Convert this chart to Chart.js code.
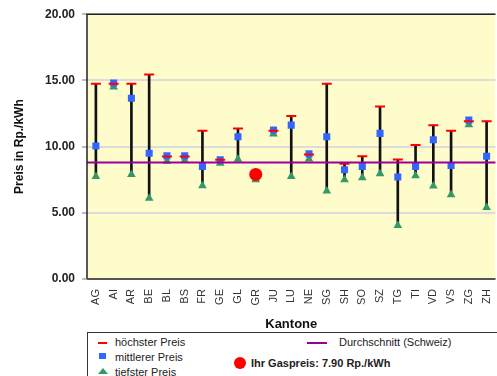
<!DOCTYPE html>
<html>
<head>
<meta charset="utf-8">
<script src="https://cdn.jsdelivr.net/npm/chart.js@4.4.0/dist/chart.umd.min.js"></script>
<style>
  html, body { margin: 0; padding: 0; background: #fff; overflow: hidden; width: 497px; height: 376px; }
  #wrap { position: relative; width: 510px; height: 376px; }
  #legend {
    position: absolute; left: 87px; top: 332px; width: 440px; height: 60px;
    border: 1px solid #333; background: #fff;
    font-family: "Liberation Sans", Arial, sans-serif; font-size: 11px; color: #222;
  }
  .item { position: absolute; white-space: nowrap; line-height: 13px; }
  .sym { position: absolute; }
</style>
</head>
<body>
<div id="wrap">
  <canvas id="chart" width="510" height="376"></canvas>
  <div id="legend">
    <div class="sym" style="left:10px;top:9px;width:9px;height:2px;background:#ff0000"></div>
    <div class="item" style="left:27px;top:3px">höchster Preis</div>
    <div class="sym" style="left:11px;top:20px;width:7px;height:6px;background:#3366ff"></div>
    <div class="item" style="left:27px;top:18px">mittlerer Preis</div>
    <div class="sym" style="left:10px;top:35px;width:0;height:0;border-left:5px solid transparent;border-right:5px solid transparent;border-bottom:6px solid #339966"></div>
    <div class="item" style="left:27px;top:33px">tiefster Preis</div>
    <div class="sym" style="left:219px;top:9px;width:20px;height:2px;background:#990099"></div>
    <div class="item" style="left:251px;top:3px">Durchschnitt (Schweiz)</div>
    <div class="sym" style="left:146px;top:24px;width:12px;height:12px;border-radius:50%;background:#ff0000"></div>
    <div class="item" style="left:163px;top:24px;font-weight:bold">Ihr Gaspreis: 7.90 Rp./kWh</div>
  </div>
</div>
<script>
// Kantone und Gaspreise in Rp./kWh
const kantone = ['AG','AI','AR','BE','BL','BS','FR','GE','GL','GR','JU','LU','NE','SG','SH','SO','SZ','TG','TI','VD','VS','ZG','ZH'];
const hoechsterPreis = [14.75, 14.75, 14.75, 15.45, 9.25, 9.25, 11.2, 9.0, 11.37, 7.7, 11.2, 12.32, 9.4, 14.75, 8.7, 9.27, 13.02, 9.02, 10.13, 11.62, 11.2, 11.92, 11.92];
const mittlererPreis = [10.05, 14.8, 13.65, 9.5, 9.3, 9.3, 8.5, 9.0, 10.75, 7.7, 11.25, 11.62, 9.45, 10.75, 8.25, 8.5, 11.0, 7.7, 8.5, 10.52, 8.57, 12.0, 9.27];
const tiefsterPreis = [7.75, 14.5, 7.9, 6.1, 8.9, 8.95, 7.05, 8.75, 9.05, 7.5, 10.95, 7.75, 9.07, 6.65, 7.5, 7.65, 7.95, 4.05, 7.8, 7.02, 6.37, 11.65, 5.4];
const durchschnitt = 8.79;
const ihrKanton = 'GR';
const ihrPreis = 7.9;
const yTicks = [0, 5, 10, 15, 20];

const FONT = '"Liberation Sans", Arial, sans-serif';

// Hintergrund, Rahmen und Durchschnittslinie
const plotDeco = {
    id: 'plotDeco',
    beforeDraw(chart) {
        const { ctx, chartArea: a } = chart;
        ctx.save();
        ctx.fillStyle = '#fffccc';
        ctx.fillRect(a.left, a.top, a.right - a.left, a.bottom - a.top);
        ctx.restore();
    },
    afterDatasetsDraw(chart) {
        const { ctx, chartArea: a, scales } = chart;
        const y = scales.y.getPixelForValue(durchschnitt);
        ctx.save();
        ctx.strokeStyle = '#990099';
        ctx.lineWidth = 2;
        ctx.beginPath();
        ctx.moveTo(a.left, y);
        ctx.lineTo(a.right, y);
        ctx.stroke();
        ctx.restore();
    },
    afterDraw(chart) {
        const { ctx, chartArea: a } = chart;
        ctx.save();
        ctx.strokeStyle = '#222';
        ctx.lineWidth = 1.5;
        ctx.beginPath();
        ctx.moveTo(a.right, a.top);
        ctx.lineTo(a.left, a.top);
        ctx.lineTo(a.left, a.bottom);
        ctx.stroke();
        ctx.strokeStyle = '#555';
        ctx.lineWidth = 2;
        ctx.beginPath();
        ctx.moveTo(a.left, a.bottom);
        ctx.lineTo(a.right, a.bottom);
        ctx.stroke();
        ctx.restore();
    }
};

const ctx = document.getElementById('chart').getContext('2d');
new Chart(ctx, {
    data: {
        labels: kantone,
        datasets: [
            {
                type: 'bar',
                data: kantone.map((k, i) => [tiefsterPreis[i], hoechsterPreis[i]]),
                backgroundColor: '#111',
                barThickness: 2,
                order: 5
            },
            {
                type: 'line',
                data: tiefsterPreis,
                showLine: false,
                pointStyle: 'triangle',
                pointRadius: 5,
                pointBackgroundColor: '#339966',
                pointBorderColor: '#339966',
                pointBorderWidth: 0,
                order: 4
            },
            {
                type: 'line',
                data: mittlererPreis,
                showLine: false,
                pointStyle: 'rect',
                pointRadius: 5,
                pointBackgroundColor: '#3366ff',
                pointBorderColor: '#3366ff',
                pointBorderWidth: 0,
                order: 3
            },
            {
                type: 'line',
                data: hoechsterPreis,
                showLine: false,
                pointStyle: 'line',
                pointRadius: 5,
                pointBorderColor: '#ff0000',
                pointBorderWidth: 2,
                order: 2
            },
            {
                type: 'line',
                data: kantone.map(k => k === ihrKanton ? ihrPreis : null),
                showLine: false,
                pointStyle: 'circle',
                pointRadius: 6.5,
                pointBackgroundColor: '#ff0000',
                pointBorderColor: '#ff0000',
                pointBorderWidth: 0,
                order: 1
            }
        ]
    },
    options: {
        responsive: false,
        animation: false,
        layout: { padding: { top: 12, right: 9, bottom: 44, left: 0 } },
        plugins: { legend: { display: false }, tooltip: { enabled: false } },
        scales: {
            x: {
                offset: true,
                grid: { display: false, drawTicks: false },
                border: { display: false },
                ticks: {
                    autoSkip: false, minRotation: 90, maxRotation: 90, padding: 10,
                    color: '#333', font: { family: FONT, size: 11 }
                },
                title: {
                    display: true, text: 'Kantone', color: '#111',
                    font: { family: FONT, size: 13, weight: 'bold' }, padding: { top: 4, bottom: 0 }
                },
                afterFit(scale) { scale.height = 53; }
            },
            y: {
                min: 0, max: 20,
                afterBuildTicks(scale) { scale.ticks = yTicks.map(v => ({ value: v })); },
                grid: { color: '#dcdcdc', lineWidth: 2, tickLength: 5, tickColor: '#bbb' },
                border: { display: false },
                ticks: {
                    padding: 7, color: '#222',
                    font: { family: FONT, size: 12, weight: 'bold' },
                    callback: v => v.toFixed(2)
                },
                title: {
                    display: true, text: 'Preis in Rp./kWh', color: '#111',
                    font: { family: FONT, size: 12, weight: 'bold' }, padding: { top: 12, bottom: 0 }
                },
                afterFit(scale) { scale.width = 87; }
            }
        }
    },
    plugins: [plotDeco]
});
</script>
</body>
</html>
